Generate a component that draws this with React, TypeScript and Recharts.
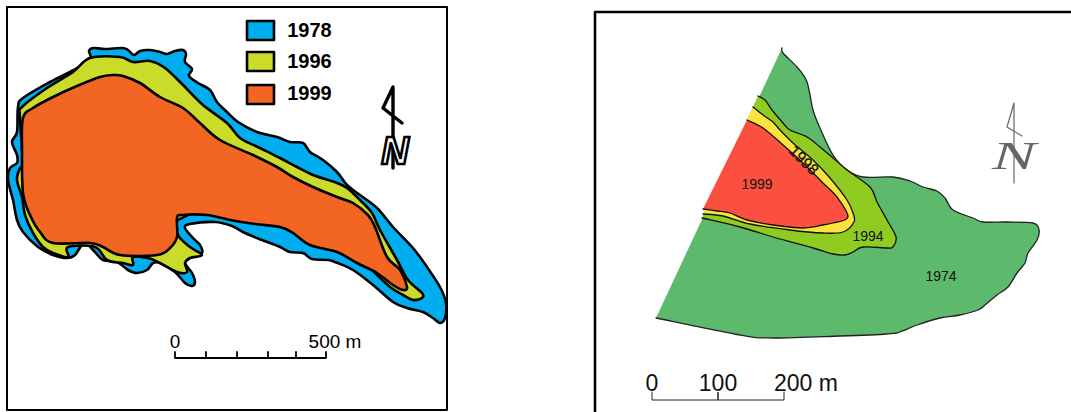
import { ScatterChart, Scatter, XAxis, YAxis } from "recharts";

type Pt = { x: number; y: number };
type Raw = [number, number];

const toPts = (raw: Raw[]): Pt[] => raw.map(([x, y]) => ({ x, y }));

// left map, glacier outlines per year
const outline1978: Raw[] = [
  [89, 51], [93, 48], [105, 49], [122, 48], [128, 50], [134, 55], [140, 51], [150, 50], [160, 52], [167, 54],
  [175, 51], [183, 50], [186, 54], [185, 62], [192, 69], [189, 76], [198, 83], [210, 90], [217, 102], [227, 112],
  [238, 122], [257, 132], [277, 137], [290, 142], [303, 143], [310, 152], [323, 160], [337, 172], [347, 185],
  [360, 195], [377, 208], [393, 227], [413, 248], [427, 267], [440, 287], [446, 303], [445, 318], [440, 323],
  [433, 318], [423, 312], [407, 308], [393, 302], [373, 285], [353, 270], [335, 262], [328, 260], [312, 259],
  [303, 253], [290, 252], [280, 247], [262, 240], [245, 233], [232, 226], [215, 222], [190, 224], [185, 228],
  [193, 238], [200, 245], [202, 253], [190, 258], [185, 263], [192, 273], [195, 282], [192, 286], [185, 283],
  [175, 272], [160, 263], [153, 263], [147, 270], [137, 273], [128, 270], [117, 262], [103, 260], [95, 252],
  [88, 245], [82, 245], [75, 255], [67, 258], [53, 255], [38, 247], [23, 232], [17, 220], [13, 200], [8, 180],
  [10, 168], [17, 163], [17, 155], [12, 142], [17, 132], [18, 107], [23, 98], [50, 82], [77, 68], [90, 58],
];
const outline1996: Raw[] = [
  [90, 58], [120, 57], [133, 62], [150, 61], [165, 68], [183, 85], [203, 105], [227, 123], [240, 138], [260, 148],
  [280, 158], [297, 167], [313, 175], [337, 183], [347, 188], [360, 200], [372, 213], [380, 230], [397, 260],
  [408, 280], [422, 293], [422, 298], [413, 300], [403, 295], [390, 287], [375, 273], [340, 240], [250, 200],
  [178, 220], [178, 235], [190, 247], [202, 255], [190, 258], [185, 263], [187, 272], [177, 272], [160, 263],
  [148, 258], [133, 257], [133, 265], [123, 263], [107, 260], [95, 247], [68, 247], [68, 257], [53, 253], [43, 247],
  [33, 233], [25, 215], [22, 197], [17, 180], [20, 168], [23, 167], [20, 117], [22, 107], [47, 88], [73, 72],
];
const outline1999: Raw[] = [
  [23, 118], [33, 108], [53, 97], [77, 86], [100, 77], [113, 75], [123, 76], [140, 83], [160, 97], [183, 108],
  [200, 123], [220, 140], [253, 155], [277, 167], [293, 177], [313, 187], [337, 197], [353, 203], [368, 215],
  [375, 227], [387, 257], [400, 270], [407, 287], [403, 290], [393, 285], [377, 273], [357, 263], [337, 252],
  [310, 245], [293, 233], [280, 227], [255, 224], [230, 220], [207, 215], [182, 215], [177, 218], [177, 237],
  [170, 248], [157, 255], [120, 255], [103, 247], [90, 243], [53, 243], [40, 232], [30, 215], [23, 193], [22, 150],
];

// right map, same idea
const outline1974: Raw[] = [
  [782, 48], [783, 53], [797, 67], [807, 82], [813, 110], [820, 128], [833, 155], [847, 170], [863, 177], [893, 177],
  [910, 181], [923, 187], [937, 191], [945, 198], [953, 210], [973, 218], [983, 222], [1007, 222], [1033, 223],
  [1039, 230], [1037, 240], [1028, 253], [1025, 263], [1017, 273], [1008, 287], [997, 295], [985, 305], [978, 310],
  [960, 315], [940, 318], [917, 325], [900, 332], [887, 334], [840, 336], [773, 338], [740, 335], [656, 318],
];
const outline1994: Raw[] = [
  [758, 96], [765, 100], [772, 110], [783, 123], [790, 130], [807, 137], [820, 147], [833, 158], [847, 170], [870, 187],
  [877, 202], [887, 220], [896, 237], [893, 247], [887, 248], [863, 247], [853, 252], [845, 255], [833, 254],
  [813, 248], [773, 237], [740, 227], [702, 218],
];
const outline1998: Raw[] = [
  [753, 107], [763, 115], [773, 122], [780, 130], [793, 143], [813, 160], [830, 178], [847, 200], [853, 213], [854, 222],
  [843, 232], [823, 233], [790, 230], [750, 224], [723, 216], [703, 214],
];
const outline1999b: Raw[] = [
  [747, 120], [763, 128], [783, 145], [803, 163], [823, 183], [837, 197], [848, 217], [833, 223], [823, 225], [803, 228],
  [773, 225], [747, 220], [730, 213], [717, 211], [703, 209],
];

const legendBoxes: { rows: Raw[]; year: string; color: string; ty: number }[] = [
  { rows: [[247, 21], [274, 21], [274, 40], [247, 40]], year: "1978", color: "#00aeef", ty: 30 },
  { rows: [[247, 52], [274, 52], [274, 71], [247, 71]], year: "1996", color: "#cbdb2a", ty: 61 },
  { rows: [[247, 85], [274, 85], [274, 104], [247, 104]], year: "1999", color: "#f26522", ty: 93 },
];

const frameLeft: Raw[] = [[7, 7], [447, 7], [447, 410], [7, 410]];
const frameRight: Raw[] = [[595, 412], [595, 12], [1071, 12]];

const scaleLeft: Raw[] = [[175, 352], [175, 358], [206, 358], [206, 352], [206, 358], [237, 358], [237, 352], [237, 358], [268, 358], [268, 352], [268, 358], [296, 358], [296, 352], [296, 358], [326, 358], [326, 352]];
const scaleRight: Raw[] = [[652, 392], [652, 400], [718, 400], [718, 392], [718, 400], [784, 400], [784, 392]];

const northLeft: Raw[] = [[402, 123], [383, 108], [393, 87], [393, 168]];
const northRight: Raw[] = [[1022, 136], [1007, 127], [1014, 103], [1014, 183]];

const scaleLabelsLeft = [
  { x: 175, y: 341, text: "0" },
  { x: 335, y: 341, text: "500 m" },
];
const scaleLabelsRight = [
  { x: 652, y: 383, text: "0" },
  { x: 718, y: 383, text: "100" },
  { x: 806, y: 383, text: "200 m" },
];
const yearLabels = [
  { x: 757, y: 184, text: "1999" },
  { x: 868, y: 236, text: "1994" },
  { x: 941, y: 276, text: "1974" },
];

const segPath = (pts: Pt[], closed: boolean) =>
  pts.map((p, i) => `${i === 0 ? "M" : "L"}${p.x} ${p.y}`).join(" ") + (closed ? " Z" : "");

// catmull-rom through the traced points, hand drawn outlines look wrong as polylines
const smoothPath = (pts: Pt[], closed: boolean) => {
  const n = pts.length;
  const at = (i: number) => (closed ? pts[(i + n) % n] : pts[Math.max(0, Math.min(n - 1, i))]);
  let d = `M${pts[0].x} ${pts[0].y}`;
  const last = closed ? n : n - 1;
  for (let i = 0; i < last; i++) {
    const [p0, p1, p2, p3] = [at(i - 1), at(i), at(i + 1), at(i + 2)];
    const c1x = p1.x + (p2.x - p0.x) / 6;
    const c1y = p1.y + (p2.y - p0.y) / 6;
    const c2x = p2.x - (p3.x - p1.x) / 6;
    const c2y = p2.y - (p3.y - p1.y) / 6;
    d += ` C${c1x} ${c1y} ${c2x} ${c2y} ${p2.x} ${p2.y}`;
  }
  return closed ? d + " Z" : d;
};

// Scatter hands the scaled points to `line`, so the polygon still goes through the axes
const polygon = (raw: Raw[], fill: string, stroke: string, strokeWidth: number, closeStroke: boolean, smooth = false) => {
  const build = smooth ? smoothPath : segPath;
  return (
    <Scatter
      data={toPts(raw)}
      isAnimationActive={false}
      shape={() => <g />}
      line={(props: any) => (
        <g>
          {fill !== "none" && <path d={build(props.points, closeStroke) + " Z"} fill={fill} stroke="none" />}
          <path
            d={build(props.points, closeStroke)}
            fill="none"
            stroke={stroke}
            strokeWidth={strokeWidth}
            strokeLinejoin="round"
            strokeLinecap="round"
          />
        </g>
      )}
    />
  );
};

const textMarks = (rows: { x: number; y: number; text: string }[], style: any) => (
  <Scatter
    data={rows}
    isAnimationActive={false}
    shape={(p: any) => (
      <text x={p.cx} y={p.cy} textAnchor="middle" dominantBaseline="central" {...style}>
        {p.payload.text}
      </text>
    )}
  />
);

const sans = "Liberation Sans, Arial, sans-serif";

export default function App() {
  return (
    <div style={{ position: "absolute", left: 0, top: 0, width: 1071, height: 412, overflow: "hidden" }}>
      <ScatterChart width={1071} height={412} margin={{ top: 0, right: 0, bottom: 0, left: 0 }}>
        <XAxis type="number" dataKey="x" domain={[0, 1071]} hide allowDataOverflow />
        <YAxis type="number" dataKey="y" domain={[0, 412]} reversed hide allowDataOverflow />

        {polygon(frameLeft, "none", "#000", 2, true)}
        {polygon(outline1978, "#00aeef", "#000", 2.6, true, true)}
        {polygon(outline1996, "#cbdb2a", "#000", 2.6, true, true)}
        {polygon(outline1999, "#f26522", "#000", 2.6, true, true)}
        {legendBoxes.map((b) => polygon(b.rows, b.color, "#000", 2.6, true))}
        {legendBoxes.map((b) =>
          textMarks([{ x: 309.5, y: b.ty, text: b.year }], { fontFamily: sans, fontSize: 20, fontWeight: 700 })
        )}
        {polygon(northLeft, "none", "#000", 3.4, false)}
        {textMarks([{ x: 395, y: 151, text: "N" }], {
          fontFamily: sans,
          fontSize: 38,
          fontWeight: 700,
          fontStyle: "italic",
          fill: "#fff",
          stroke: "#000",
          strokeWidth: 2.6,
        })}
        {polygon(scaleLeft, "none", "#000", 1.8, false)}
        {textMarks(scaleLabelsLeft, { fontFamily: sans, fontSize: 19 })}

        {polygon(frameRight, "none", "#000", 2.6, false)}
        {polygon(outline1974, "#5dba6c", "#222", 1.3, false, true)}
        {polygon(outline1994, "#8fcb20", "#111", 1.3, false, true)}
        {polygon(outline1998, "#f9e33c", "#111", 1.3, false, true)}
        {polygon(outline1999b, "#fb5040", "#111", 1.3, false, true)}
        {textMarks(yearLabels, { fontFamily: sans, fontSize: 14, fill: "#111" })}
        <Scatter
          data={[{ x: 804, y: 160 }]}
          isAnimationActive={false}
          shape={(p: any) => (
            <text
              x={p.cx}
              y={p.cy}
              textAnchor="middle"
              dominantBaseline="central"
              transform={`rotate(45 ${p.cx} ${p.cy})`}
              fontFamily={sans}
              fontSize={15.5}
              fill="#111"
              stroke="#111"
              strokeWidth={0.3}
            >
              1998
            </text>
          )}
        />
        {polygon(northRight, "none", "#666", 1.2, false)}
        {textMarks([{ x: 1014, y: 155, text: "N" }], {
          fontFamily: "Liberation Serif, serif",
          fontSize: 40,
          fontStyle: "italic",
          fill: "#666",
          textLength: 44,
          lengthAdjust: "spacingAndGlyphs",
        })}
        {polygon(scaleRight, "none", "#222", 1, false)}
        {textMarks(scaleLabelsRight, { fontFamily: sans, fontSize: 23, fill: "#111" })}
      </ScatterChart>
    </div>
  );
}
